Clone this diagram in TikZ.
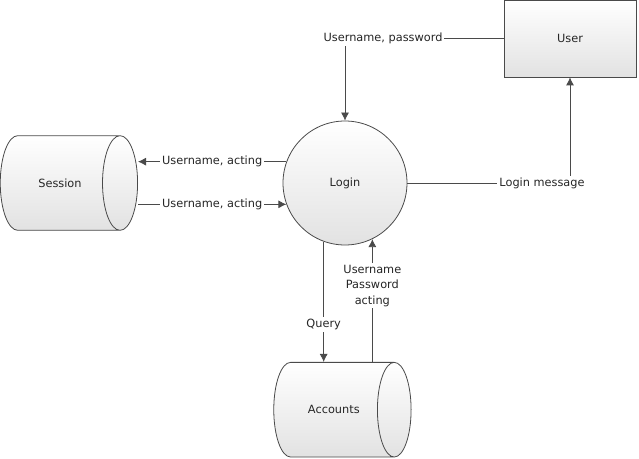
\documentclass[tikz,border=0pt]{standalone}
\usepackage{fontspec}
\setmainfont{DejaVu Sans}
\usetikzlibrary{shapes.geometric,arrows.meta}
\definecolor{linegray}{HTML}{4A4A4A}
\definecolor{fillgray}{HTML}{E2E2E2}
\definecolor{textgray}{HTML}{262626}
\newcommand{\dfdfont}{\fontsize{8.5}{11.5}\selectfont}
\tikzset{
	dfdshape/.style={draw=linegray,top color=white,bottom color=fillgray,font=\dfdfont,text=textgray,inner sep=0pt},
	dfdstore/.style={dfdshape,cylinder,aspect=4,minimum height=103pt,minimum width=71pt,anchor=east},
	flowlabel/.style={fill=white,inner sep=1.5pt,font=\dfdfont,text=textgray,align=center}
}

\begin{document}
\begin{tikzpicture}[x=0.75pt,y=-0.75pt,line width=0.6pt,>={Latex[length=6pt,width=6pt]}]
	\useasboundingbox (0,0) rectangle (639,459);
	
	\node[dfdshape,rectangle,minimum width=99pt,minimum height=57.75pt] at (570,38.5) (user) {User};
	\node[dfdshape,circle,minimum size=93pt] at (345,183) (login) {Login};
	\node[dfdstore] at (138,183) (session) {Session};
	\node[dfdstore] at (411.5,409.7) (accounts) {Accounts};
	
	\draw[->,linegray] (user.west) -| node[flowlabel,pos=0.38] {Username, password} (login.north);
	\draw[->,linegray] (login.east) -| node[flowlabel,pos=0.414] {Login message} (user.south);
	
	\draw[->,linegray] (login.160) -- node[flowlabel] {Username, acting} (login.160 -| session.east);
	\draw[->,linegray] (login.200 -| session.east) -- node[flowlabel] {Username, acting} (login.200);
	
	\draw[->,linegray] (login.250) -- node[flowlabel,pos=0.69] {Query} (login.250 |- accounts.north);
	\draw[->,linegray] (login.296 |- accounts.north) -- node[flowlabel,pos=0.62] {Username\\Password\\acting} (login.296);
\end{tikzpicture}
\end{document}
